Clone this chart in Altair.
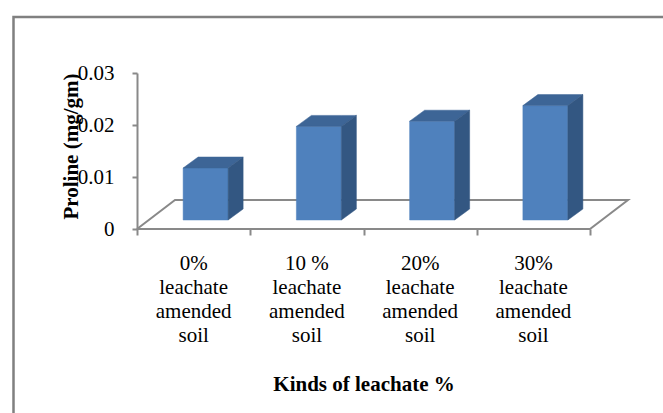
import altair as alt
import pandas as pd

# ---- data ----
categories = [
    "0%\nleachate\namended\nsoil",
    "10 %\nleachate\namended\nsoil",
    "20%\nleachate\namended\nsoil",
    "30%\nleachate\namended\nsoil",
]
values = [0.010, 0.018, 0.019, 0.022]
y_ticks = [0, 0.01, 0.02, 0.03]
y_title = "Proline (mg/gm)"
x_title = "Kinds of leachate %"

# ---- geometry / style (pseudo-3D look) ----
W, H = 453, 156
YMAX = 0.03
PX = len(categories) / W      # category units per pixel
PY = YMAX / H                 # value units per pixel
shift_x, lift = 12 * PX, 9 * PY       # bars stand in the middle of the floor depth
half_w = 22.5 * PX
dxb, dyb = 15 * PX, 11 * PY           # bar depth
fdx, fdy = 38 * PX, 29 * PY           # floor depth
FONT = "Times New Roman, Liberation Serif, serif"
GREY = "#898989"

n = len(categories)
front_rows, top_rows, side_rows, label_rows = [], [], [], []
for i, v in enumerate(values):
    x0 = i + shift_x - half_w
    w = 2 * half_w
    yT = v + lift
    front_rows.append({"x": x0, "x2": x0 + w, "y": yT, "y2": lift, "bar": i})
    top_rows += [
        {"x": x0, "y": yT, "y2": yT, "bar": i},
        {"x": x0 + dxb, "y": yT + dyb, "y2": yT, "bar": i},
        {"x": x0 + w, "y": yT + dyb, "y2": yT, "bar": i},
        {"x": x0 + w + dxb, "y": yT + dyb, "y2": yT + dyb, "bar": i},
    ]
    side_rows += [
        {"x": x0 + w, "y": yT, "y2": lift, "bar": i},
        {"x": x0 + w + dxb, "y": yT + dyb, "y2": lift + dyb, "bar": i},
    ]
    label_rows.append({"x": i, "y": 0, "label": categories[i]})

lo, hi = -0.5, n - 0.5
floor_rows = [
    {"x": lo, "y": 0, "o": 0},
    {"x": hi, "y": 0, "o": 1},
    {"x": hi + fdx, "y": fdy, "o": 2},
    {"x": lo + fdx, "y": fdy, "o": 3},
    {"x": lo, "y": 0, "o": 4},
]

xs = alt.Scale(domain=[lo, hi], nice=False, zero=False)
ys = alt.Scale(domain=[0, YMAX], nice=False, zero=False)

x_axis = alt.Axis(
    values=[lo + k for k in range(n + 1)], labels=False, domain=False, grid=False,
    tickSize=6, tickColor=GREY, tickWidth=2,
    title=x_title, titleFont=FONT, titleFontSize=21, titleFontWeight="bold",
    titleColor="black", titleBaseline="alphabetic", titleY=161,
)
y_axis = alt.Axis(
    values=y_ticks, grid=False,
    labelExpr="datum.value == 0 ? '0' : format(datum.value, '.2f')",
    domainColor=GREY, domainWidth=2, tickColor=GREY, tickWidth=2, tickSize=5,
    labelFont=FONT, labelFontSize=21, labelColor="black", labelPadding=18,
    title=y_title, titleFont=FONT, titleFontSize=21, titleFontWeight="bold",
    titleColor="black", titleX=-56, titleY=73,
)

X = alt.X("x:Q", scale=xs, axis=x_axis)
Y = alt.Y("y:Q", scale=ys, axis=y_axis)

frame = alt.Chart(pd.DataFrame({"a": [0]})).mark_rect(
    filled=False, stroke="#808080", strokeWidth=2.5
).encode(x=alt.value(-123.5), x2=alt.value(560), y=alt.value(-56), y2=alt.value(400))

floor = alt.Chart(pd.DataFrame(floor_rows)).mark_line(
    color=GREY, strokeWidth=2
).encode(x=X, y=Y, order="o:Q")

front = alt.Chart(pd.DataFrame(front_rows)).mark_rect(
    color="#4F81BD", stroke="#4F81BD", strokeWidth=0.5
).encode(x=X, x2="x2:Q", y=Y, y2="y2:Q")

top = alt.Chart(pd.DataFrame(top_rows)).mark_area(
    color="#3D6596", stroke="#3D6596", strokeWidth=0.5, interpolate="linear"
).encode(x=X, y=Y, y2="y2:Q", detail="bar:N")

side = alt.Chart(pd.DataFrame(side_rows)).mark_area(
    color="#335782", stroke="#335782", strokeWidth=0.5, interpolate="linear"
).encode(x=X, y=Y, y2="y2:Q", detail="bar:N")

labels = alt.Chart(pd.DataFrame(label_rows)).mark_text(
    lineBreak="\n", baseline="top", align="center", font=FONT, fontSize=21,
    lineHeight=24, color="black", dy=24
).encode(x=X, y=Y, text="label:N")

chart = alt.layer(frame, floor, front, top, side, labels).properties(
    width=W, height=H,
    autosize=alt.AutoSizeParams(type="none"),
    padding={"left": 137, "top": 73, "right": 663 - 137 - W, "bottom": 413 - 73 - H},
    background="white",
).configure_view(stroke=None)

chart.save("out.html", embed_options={"renderer": "svg", "actions": False})
